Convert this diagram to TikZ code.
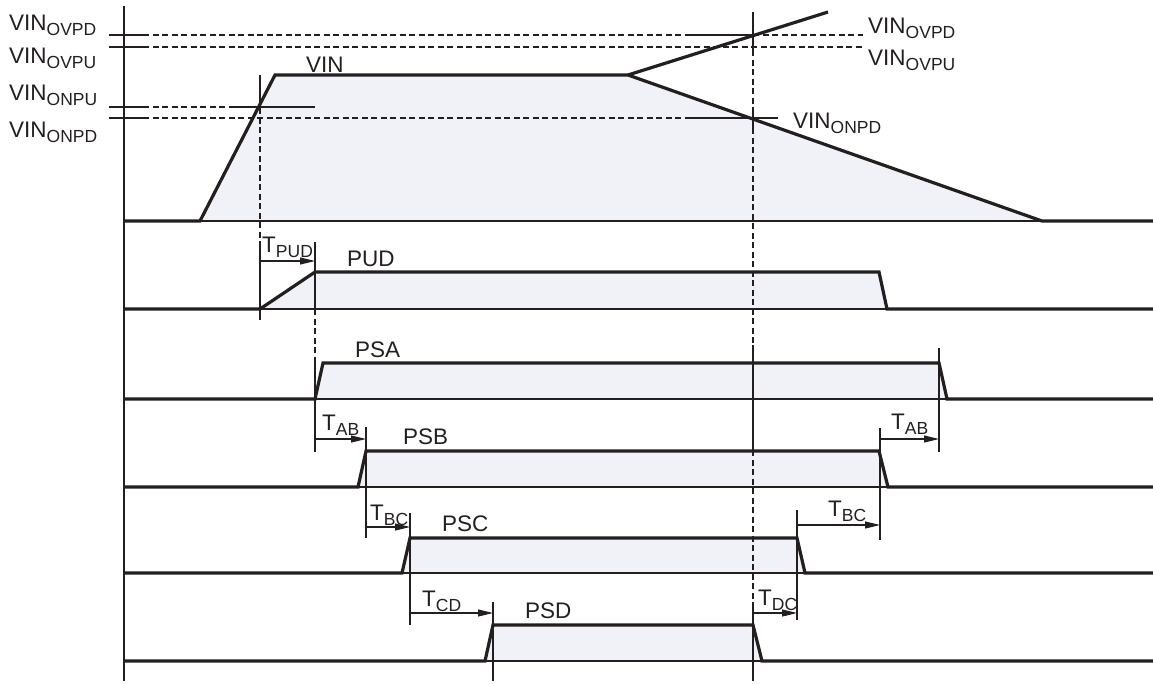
\documentclass[tikz,border=0pt]{standalone}
\usepackage{fontspec}
\setmainfont{Liberation Sans}
\usetikzlibrary{arrows.meta}
\definecolor{ink}{RGB}{35,31,32}
\definecolor{fillc}{RGB}{240,242,248}
\newcommand{\vsub}[2]{#1\raisebox{-5pt}{\fontsize{17.5}{19}\selectfont #2}}
\begin{document}
\begin{tikzpicture}[x=1pt,y=-1pt,
  tline/.style={line width=1.1pt, draw=ink},
  dline/.style={line width=1.1pt, draw=ink, dash pattern=on 6pt off 3.5pt},
  sline/.style={line width=3.2pt, draw=ink},
  tarrow/.style={line width=1.1pt, draw=ink, -{Triangle[length=15pt,width=7pt]}},
  lab/.style={font=\fontsize{22.5}{26}\selectfont, inner sep=0pt, anchor=base west, text=ink}]
\useasboundingbox (0,0) rectangle (1153,683);

% ---- fills
\fill[fillc] (200,221) -- (275,75) -- (628,75) -- (1042,221) -- cycle;
\fill[fillc] (260,309) -- (315,272) -- (879,272) -- (887,309) -- cycle;
\fill[fillc] (315,399) -- (323,363) -- (939,363) -- (947,399) -- cycle;
\fill[fillc] (358,487) -- (366,451) -- (879,451) -- (888,487) -- cycle;
\fill[fillc] (402,573) -- (410,538) -- (797,538) -- (805,573) -- cycle;
\fill[fillc] (485,661) -- (493,625) -- (753,625) -- (762,661) -- cycle;

% ---- axis
\draw[tline] (124,6) -- (124,681);

% ---- threshold lines
\draw[tline] (109,35) -- (143,35);
\draw[dline] (143,35) -- (690,35);
\draw[tline] (690,35) -- (753,35);
\draw[dline] (753,35) -- (863,35);
\draw[tline] (109,47) -- (143,47);
\draw[dline] (143,47) -- (863,47);
\draw[tline] (109,107) -- (143,107);
\draw[dline] (143,107) -- (230,107);
\draw[tline] (230,107) -- (315,107);
\draw[tline] (109,118) -- (143,118);
\draw[dline] (143,118) -- (690,118);
\draw[tline] (690,118) -- (778,118);

% ---- baselines
\foreach \yy in {221,309,399,487,573,661}
  \draw[tline] (124,\yy) -- (1153,\yy);

% ---- vertical timing lines
\draw[tline] (260,75) -- (260,108);
\draw[dline] (260,108) -- (260,247);
\draw[tline] (260,247) -- (260,320);
\draw[tline] (315,242) -- (315,309);
\draw[dline] (315,309) -- (315,360);
\draw[tline] (315,360) -- (315,452);
\draw[tline] (366,427) -- (366,538);
\draw[tline] (410,513) -- (410,625);
\draw[tline] (493,602) -- (493,681);
\draw[tline] (753,12) -- (753,50);
\draw[dline] (753,50) -- (753,108);
\draw[tline] (753,108) -- (753,128);
\draw[dline] (753,128) -- (753,345);
\draw[tline] (753,345) -- (753,450);
\draw[dline] (753,450) -- (753,603);
\draw[tline] (753,603) -- (753,681);
\draw[tline] (797,510) -- (797,620);
\draw[tline] (880,428) -- (880,540);
\draw[tline] (939,348) -- (939,452);

% ---- signals
\draw[sline] (124,221) -- (200,221) -- (275,75) -- (628,75) -- (1042,221) -- (1153,221);
\draw[sline] (628,75) -- (828,12);
\draw[sline] (124,309) -- (260,309) -- (315,272) -- (879,272) -- (887,309) -- (1153,309);
\draw[sline] (124,399) -- (315,399) -- (323,363) -- (939,363) -- (947,399) -- (1153,399);
\draw[sline] (124,487) -- (358,487) -- (366,451) -- (879,451) -- (888,487) -- (1153,487);
\draw[sline] (124,573) -- (402,573) -- (410,538) -- (797,538) -- (805,573) -- (1153,573);
\draw[sline] (124,661) -- (485,661) -- (493,625) -- (753,625) -- (762,661) -- (1153,661);

% ---- arrow end points
\coordinate (pud1) at (260,261); \coordinate (pud2) at (315,261);
\coordinate (ab1) at (315,439);  \coordinate (ab2) at (366,439);
\coordinate (ab3) at (880,439);  \coordinate (ab4) at (939,439);
\coordinate (bc1) at (366,527);  \coordinate (bc2) at (410,527);
\coordinate (bc3) at (797,525);  \coordinate (bc4) at (880,525);
\coordinate (cd1) at (410,613);  \coordinate (cd2) at (493,613);
\coordinate (dc1) at (753,613);  \coordinate (dc2) at (797,613);
\draw[tarrow] (pud1) -- (pud2);
\draw[tarrow] (ab1) -- (ab2);
\draw[tarrow] (ab3) -- (ab4);
\draw[tarrow] (bc1) -- (bc2);
\draw[tarrow] (bc3) -- (bc4);
\draw[tarrow] (cd1) -- (cd2);
\draw[tarrow] (dc1) -- (dc2);

% ---- labels
\node[lab] (lovpd) at (9,30) {\vsub{VIN}{OVPD}};
\node[lab] (lovpu) at (9,63) {\vsub{VIN}{OVPU}};
\node[lab] (lonpu) at (9,100) {\vsub{VIN}{ONPU}};
\node[lab] (lonpd) at (9,137) {\vsub{VIN}{ONPD}};
\node[lab] (rovpd) at (868,33) {\vsub{VIN}{OVPD}};
\node[lab] (rovpu) at (868,65) {\vsub{VIN}{OVPU}};
\node[lab] (ronpd) at (793,128) {\vsub{VIN}{ONPD}};

\node[lab] (nvin) at (306,72) {VIN};
\node[lab] (npud) at (347,266) {PUD};
\node[lab] (npsa) at (355,357) {PSA};
\node[lab] (npsb) at (403,444) {PSB};
\node[lab] (npsc) at (442,531) {PSC};
\node[lab] (npsd) at (525,618) {PSD};

\node[lab] (tpud) at (262,252) {\vsub{T}{PUD}};
\node[lab] (tab1) at (322,430) {\vsub{T}{AB}};
\node[lab] (tab2) at (891,429) {\vsub{T}{AB}};
\node[lab] (tbc1) at (370,520) {\vsub{T}{BC}};
\node[lab] (tbc2) at (828,516) {\vsub{T}{BC}};
\node[lab] (tcd) at (422,606) {\vsub{T}{CD}};
\node[lab] (tdc) at (758,605) {\vsub{T}{DC}};
\end{tikzpicture}
\end{document}
